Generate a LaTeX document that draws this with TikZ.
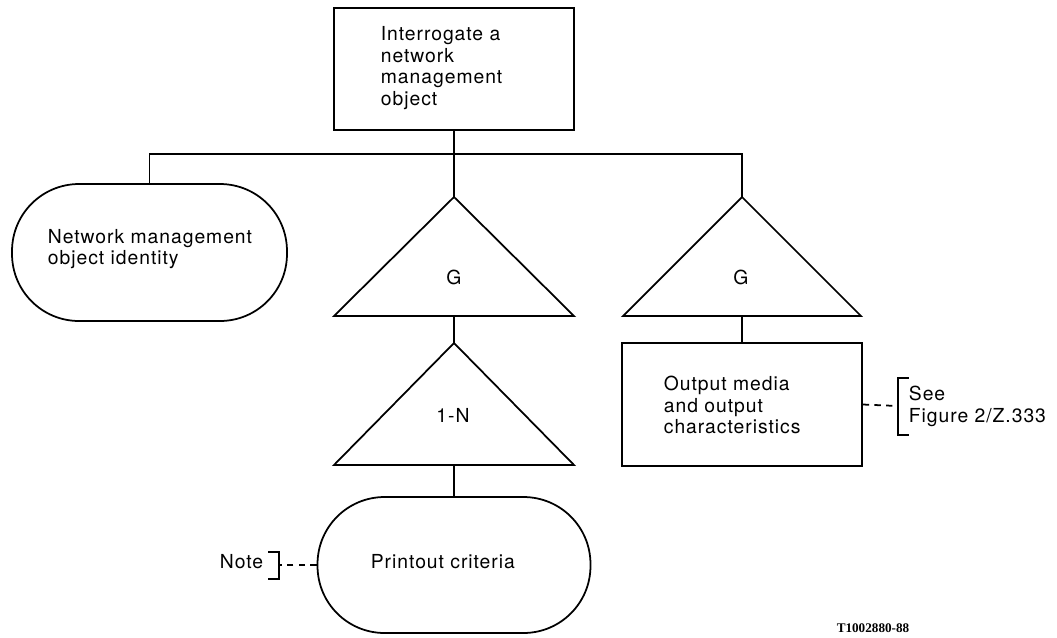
\documentclass[tikz,border=0pt]{standalone}
\usepackage{fontspec}
\setmainfont{TeX Gyre Heros}[LetterSpace=5.0]
\newfontfamily\footfont{Liberation Serif}
\usetikzlibrary{positioning}
\begin{document}
\begin{tikzpicture}[x=0.02cm,y=-0.02cm,
  line width=1pt,
  every node/.style={font=\fontsize{11pt}{12.4pt}\selectfont, inner sep=0pt},
  boxnode/.style={draw, rectangle, line width=1pt},
  stadium/.style={draw, rectangle, rounded corners=1.34cm, line width=1pt},
  txt/.style={align=left, anchor=west},
  dashline/.style={line width=1pt, dash pattern=on 3.6pt off 3pt}
]
\useasboundingbox (0,0) rectangle (1057,637);

% top box
\node[boxnode, minimum width=4.8cm, minimum height=2.44cm] (top) at (454,69) {};
\node[txt] (toptxt) at (380,68) {Interrogate a\\network\\management\\object};

% bus
\coordinate (bus) at (454,154);

% left stadium
\node[stadium, minimum width=5.5cm, minimum height=2.74cm] (nmo) at (149.5,252.5) {};
\node[txt] (nmotxt) at (47,249) {Network management\\object identity};

% middle G triangle
\coordinate (g1a) at (454,197);
\coordinate (g1l) at (334,316);
\coordinate (g1r) at (574,316);
\coordinate (g1b) at (454,316);
\draw (g1a) -- (g1l) -- (g1r) -- cycle;
\node (g1t) at (454,277) {G};

% right G triangle
\coordinate (g2a) at (742,197);
\coordinate (g2l) at (623,316);
\coordinate (g2r) at (861,316);
\coordinate (g2b) at (742,316);
\draw (g2a) -- (g2l) -- (g2r) -- cycle;
\node (g2t) at (741,277) {G};

% 1-N triangle
\coordinate (na) at (454,343);
\coordinate (nl) at (334,465);
\coordinate (nr) at (574,465);
\coordinate (nb) at (454,465);
\draw (na) -- (nl) -- (nr) -- cycle;
\node (nt) at (453,415.5) {1-N};

% bottom stadium
\node[stadium, minimum width=5.46cm, minimum height=2.72cm] (pc) at (454,565) {};
\node[anchor=base west] (pctxt) at (370,568) {Printout criteria};

% right box
\node[boxnode, minimum width=4.8cm, minimum height=2.46cm] (om) at (742,404.5) {};
\node[txt] (omtxt) at (663,405) {Output media\\and output\\characteristics};

% connectors
\draw (top.south) -- (g1a);
\draw (nmo.north) |- (bus) -| (g2a);
\draw (g1b) -- (na);
\draw (nb) -- (pc.north);
\draw (g2b) -- (om.north);

% See bracket
\coordinate (sb) at (898,406);
\coordinate (sbt) at (898,378);
\coordinate (sbb) at (898,435);
\draw[dashline] (om.east) -- (sb);
\draw[line width=1.2pt] ([xshift=5\pgflinewidth]sbt) -- (sbt) -- (sbb) -- ([xshift=5\pgflinewidth]sbb);
\node[txt] (seetxt) at (908,406.5) {See\\Figure 2/Z.333};

% Note bracket
\coordinate (nbk) at (279,565);
\coordinate (nbt) at (279,552);
\coordinate (nbb) at (279,579);
\draw[dashline] (pc.west) -- (nbk);
\draw[line width=1.2pt] ([xshift=-5\pgflinewidth]nbt) -- (nbt) -- (nbb) -- ([xshift=-5\pgflinewidth]nbb);
\node[anchor=base west] (notetxt) at (219,568) {Note};

% footer
\node[font=\footfont\bfseries\fontsize{7.5pt}{9pt}\selectfont] (foot) at (873,628) {T1002880-88};
\end{tikzpicture}
\end{document}
